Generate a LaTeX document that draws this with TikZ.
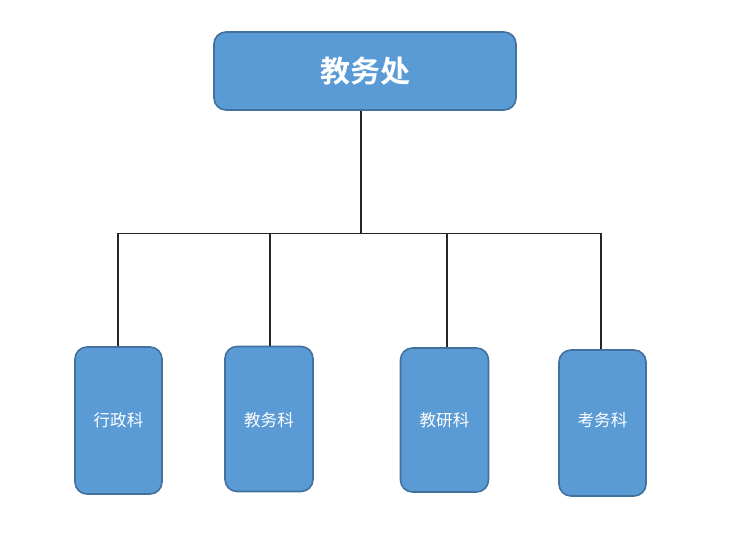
\documentclass[tikz,border=0pt]{standalone}
\usepackage{fontspec}
\newfontfamily\cjk{Noto Sans CJK SC}
\newfontfamily\cjkb{Noto Sans CJK SC Bold}
\definecolor{boxfill}{HTML}{5B9BD5}
\definecolor{boxedge}{HTML}{41719C}
\begin{document}
\begin{tikzpicture}[x=0.75pt,y=-0.75pt,
  box/.style={draw=boxedge,line width=1.2pt,fill=boxfill,rounded corners=9pt,text=white,inner sep=0pt},
  small/.style={font=\cjk\fontsize{12.4}{14}\selectfont,text height=10.4pt,text depth=1pt},
  conn/.style={draw=black!85,line width=1pt}]
\useasboundingbox (0,0) rectangle (733,549);
\node[box,minimum width=302*0.75pt,minimum height=78*0.75pt,font=\cjkb\fontsize{22.5}{26}\selectfont] (top) at (365,71) {教务处};
\node[box,small,minimum width=87*0.75pt,minimum height=147*0.75pt] (a) at (118.5,420.5) {行政科};
\node[box,small,minimum width=88*0.75pt,minimum height=145*0.75pt] (b) at (269,419) {\raisebox{-0.75pt}{教务科}};
\node[box,small,minimum width=88*0.75pt,minimum height=144*0.75pt] (c) at (444.5,420) {教研科};
\node[box,small,minimum width=87*0.75pt,minimum height=146*0.75pt] (d) at (602.5,423) {\raisebox{2.25pt}{考务科}};
\coordinate (j) at (361,233.5);
\coordinate (ja) at (118,233.5);
\coordinate (jb) at (270,233.5);
\coordinate (jc) at (447,233.5);
\coordinate (jd) at (601,233.5);
\draw[conn] (top.south -| j) -- (j);
\draw[conn] (ja) -- (jd);
\draw[conn] (ja) -- (ja |- a.north);
\draw[conn] (jb) -- (jb |- b.north);
\draw[conn] (jc) -- (jc |- c.north);
\draw[conn] (jd) -- (jd |- d.north);
\end{tikzpicture}
\end{document}
